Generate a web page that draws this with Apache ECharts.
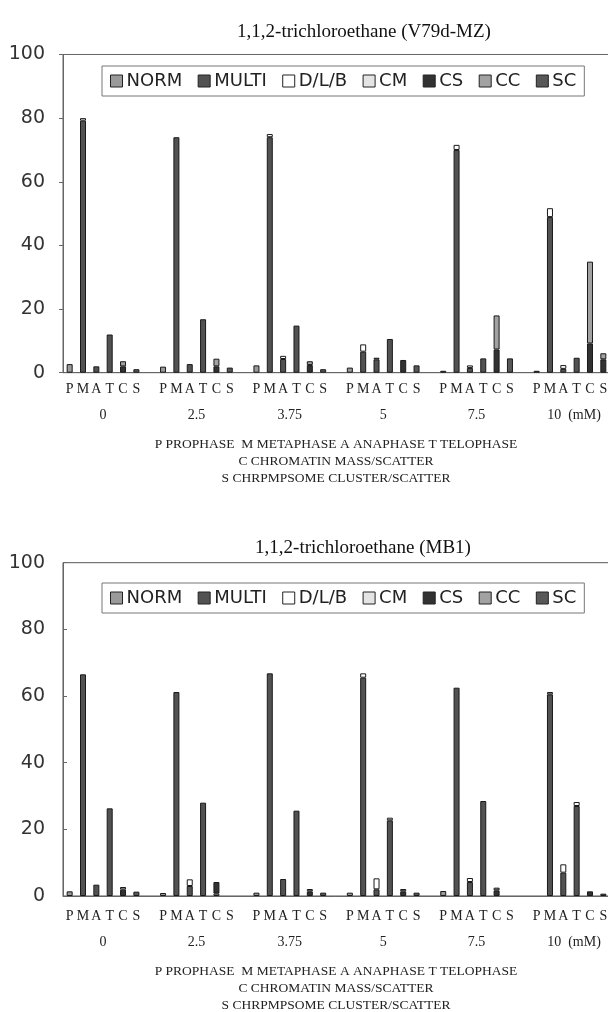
<!DOCTYPE html>
<html><head><meta charset="utf-8">
<script src="https://cdn.jsdelivr.net/npm/echarts@6/dist/echarts.min.js"></script>
<style>html,body{margin:0;padding:0;background:#fff}#c{width:608px;height:1012px}</style>
</head><body><div id="c"></div>
<script>
// ---- data ----
const groups = ['0', '2.5', '3.75', '5', '7.5', '10'];
const phases = ['P', 'M', 'A', 'T', 'C', 'S'];
const seriesNames = ['NORM', 'MULTI', 'D/L/B', 'CM', 'CS', 'CC', 'SC'];
const yTicks = [0, 20, 40, 60, 80, 100];
const title1 = '1,1,2-trichloroethane (V79d-MZ)';
const title2 = '1,1,2-trichloroethane (MB1)';
const footnote = ['P PROPHASE  M METAPHASE A ANAPHASE T TELOPHASE', 'C CHROMATIN MASS/SCATTER', 'S CHRPMPSOME CLUSTER/SCATTER'];

// chart 1 (V79d-MZ): per group [P, M, A, T, C, S]
const v79_NORM  = [2.7,0,0,0,0,0,  1.9,0,0,0,0,0,  2.3,0,0,0,0,0,  1.6,0,0,0,0,0,  0,0,0,0,0,0,  0,0,0,0,0,0];
const v79_MULTI = [0,79.2,2,12,0,0,  0,74,2.7,16.8,0,0,  0,74,4.3,14.8,0,0,  0,6.6,4.2,10.6,0,0,  0,70,1.5,4.5,0,0,  0,48.9,1.2,4.7,0,0];
const v79_DLB   = [0,0.8,0,0,0,0,  0,0,0,0,0,0,  0,1,1,0,0,0,  0,2.3,0.5,0,0,0,  0,1.6,0.8,0,0,0,  0,2.8,1.2,0,0,0];
const v79_CM    = [0,0,0,0,0,0,  0,0,0,0,0,0,  0,0,0,0,0,0,  0,0,0,0,0,0,  0,0,0,0,0,0,  0,0,0,0,0,0];
const v79_CS    = [0,0,0,0,2,0,  0,0,0,0,2,0,  0,0,0,0,2.4,0,  0,0,0,0,4,0,  0.6,0,0,0,7.3,0,  0.6,0,0,0,9.2,4.2];
const v79_CC    = [0,0,0,0,1.6,0,  0,0,0,0,2.4,0,  0,0,0,0,1.2,0,  0,0,0,0,0,0,  0,0,0,0,10.7,0,  0,0,0,0,25.7,1.9];
const v79_SC    = [0,0,0,0,0,1.1,  0,0,0,0,0,1.6,  0,0,0,0,0,1.1,  0,0,0,0,0,2.3,  0,0,0,0,0,4.5,  0,0,0,0,0,0];

// chart 2 (MB1)
const mb1_NORM  = [1.4,0,0,0,0,0,  0.9,0,0,0,0,0,  1.0,0,0,0,0,0,  1.0,0,0,0,0,0,  1.5,0,0,0,0,0,  0,0,0,0,0,0];
const mb1_MULTI = [0,66.5,3.4,26.3,0,0,  0,61.2,3,28,0,0,  0,66.8,5.1,25.6,0,0,  0,65.5,2,22.7,0,0,  0,62.5,4.2,28.5,0,0,  0,60.5,7,27,0,0];
const mb1_DLB   = [0,0,0,0,0,0,  0,0,2,0,0,0,  0,0,0,0,0,0,  0,1.3,3.3,0.8,0,0,  0,0,1.2,0,0,0,  0,0.7,2.5,1.2,0,0];
const mb1_CM    = [0,0,0,0,0,0,  0,0,0,0,0.7,0,  0,0,0,0,0,0,  0,0,0,0,0,0,  0,0,0,0,0,0,  0,0,0,0,0,0];
const mb1_CS    = [0,0,0,0,1.9,0,  0,0,0,0,3.5,0,  0,0,0,0,1.4,0,  0,0,0,0,1.4,0,  0,0,0,0,1.7,0,  0,0,0,0,1.4,0];
const mb1_CC    = [0,0,0,0,0.8,0,  0,0,0,0,0,0,  0,0,0,0,0.7,0,  0,0,0,0,0.7,0,  0,0,0,0,0.8,0,  0,0,0,0,0,0];
const mb1_SC    = [0,0,0,0,0,1.3,  0,0,0,0,0,0,  0,0,0,0,0,1.0,  0,0,0,0,0,1.0,  0,0,0,0,0,0,  0,0,0,0,0,0.7];

const colors = ['#9a9a9a', '#525252', '#ffffff', '#e4e4e4', '#323232', '#a2a2a2', '#585858'];

// ---- build ----
const cats = [];
groups.forEach((g, gi) => { phases.forEach(p => cats.push(p)); if (gi < groups.length - 1) cats.push(''); });
function build(arr) {
  const out = [];
  groups.forEach((g, gi) => {
    for (let p = 0; p < phases.length; p++) { const v = arr[gi * phases.length + p]; out.push(v ? v : '-'); }
    if (gi < groups.length - 1) out.push('-');
  });
  return out;
}
const chart1 = [v79_NORM, v79_MULTI, v79_DLB, v79_CM, v79_CS, v79_CC, v79_SC];
const chart2 = [mb1_NORM, mb1_MULTI, mb1_DLB, mb1_CM, mb1_CS, mb1_CC, mb1_SC];

const SERIF = 'Liberation Serif';
const SANS = 'DejaVu Sans';
const nSlots = cats.length;

function concFormatter(v) {
  const k = (v - 2.5) / 7;
  const r = Math.round(k);
  if (Math.abs(k - r) < 1e-6 && r >= 0 && r < groups.length) {
    return r === groups.length - 1 ? '{last|' + groups[r] + '  (mM)}' : groups[r];
  }
  return '';
}

const grids = [
  { left: 63, width: 547, top: 54.5, height: 318.2, show: true, borderColor: '#666', borderWidth: 1, outerBoundsMode: 'none', containLabel: false },
  { left: 63, width: 547, top: 562.7, height: 333.3, show: true, borderColor: '#555', borderWidth: 1, outerBoundsMode: 'none', containLabel: false }
];
const xAxes = [], yAxes = [], series = [];
[0, 1].forEach(gi => {
  xAxes.push({
    type: 'category', gridIndex: gi, data: cats, boundaryGap: true,
    axisLine: { show: true, onZero: false, lineStyle: { color: '#666' } }, axisTick: { show: false },
    axisLabel: { interval: 0, margin: gi === 0 ? 10 : 13, color: '#222', fontFamily: SERIF, fontSize: 14 }
  });
  xAxes.push({
    type: 'value', gridIndex: gi, position: 'bottom', min: -0.5, max: nSlots - 0.5, interval: 1,
    axisLine: { show: false, onZero: false }, axisTick: { show: false }, splitLine: { show: false },
    axisLabel: { show: true, margin: gi === 0 ? 36 : 39, color: '#222', fontFamily: SERIF, fontSize: 14,
      formatter: concFormatter, rich: { last: { fontFamily: SERIF, fontSize: 14, color: '#222', padding: [0, 0, 0, 8] } } }
  });
  yAxes.push({
    type: 'value', gridIndex: gi, min: yTicks[0], max: yTicks[yTicks.length - 1], interval: 20,
    axisLine: { show: true, onZero: false, lineStyle: { color: '#666' } },
    axisTick: { show: true, inside: gi === 1, length: 4, lineStyle: { color: '#666' } },
    splitLine: { show: false },
    axisLabel: { margin: 18, color: '#333', fontFamily: SANS, fontSize: 19 }
  });
  const dataSets = gi === 0 ? chart1 : chart2;
  seriesNames.forEach((name, si) => {
    series.push({
      name, type: 'bar', stack: 'st' + gi, xAxisIndex: gi * 2, yAxisIndex: gi,
      barWidth: 6, data: build(dataSets[si]),
      itemStyle: { color: colors[si], borderColor: '#1a1a1a', borderWidth: 1 },
      emphasis: { disabled: true }
    });
  });
});

const legendCommon = {
  data: seriesNames, left: 102, width: 490, orient: 'horizontal',
  borderColor: '#777', borderWidth: 1, padding: [6, 8, 6, 8],
  itemWidth: 12, itemHeight: 12, itemGap: 15.5, icon: 'rect',
  itemStyle: { borderColor: '#222', borderWidth: 1 },
  textStyle: { fontFamily: SANS, fontSize: 18, color: '#222', padding: [0, 0, 0, -1] },
  selectedMode: false
};

const chart = echarts.init(document.getElementById('c'), null, { renderer: 'canvas' });
chart.setOption({
  animation: false,
  color: colors,
  title: [
    { text: title1, left: 359, top: 18, textAlign: 'center', textStyle: { fontFamily: SERIF, fontSize: 19, fontWeight: 'normal', color: '#111' } },
    { text: title2, left: 358, top: 534, textAlign: 'center', textStyle: { fontFamily: SERIF, fontSize: 19, fontWeight: 'normal', color: '#111' } },
    { text: footnote.join('\n'), left: 331, top: 431, textAlign: 'center', textStyle: { fontFamily: SERIF, fontSize: 13.5, lineHeight: 17, fontWeight: 'normal', color: '#222' } },
    { text: footnote.join('\n'), left: 331, top: 958, textAlign: 'center', textStyle: { fontFamily: SERIF, fontSize: 13.5, lineHeight: 17, fontWeight: 'normal', color: '#222' } }
  ],
  legend: [
    Object.assign({}, legendCommon, { top: 66 }),
    Object.assign({}, legendCommon, { top: 583 })
  ],
  grid: grids,
  xAxis: xAxes,
  yAxis: yAxes,
  series: series
});
</script></body></html>
